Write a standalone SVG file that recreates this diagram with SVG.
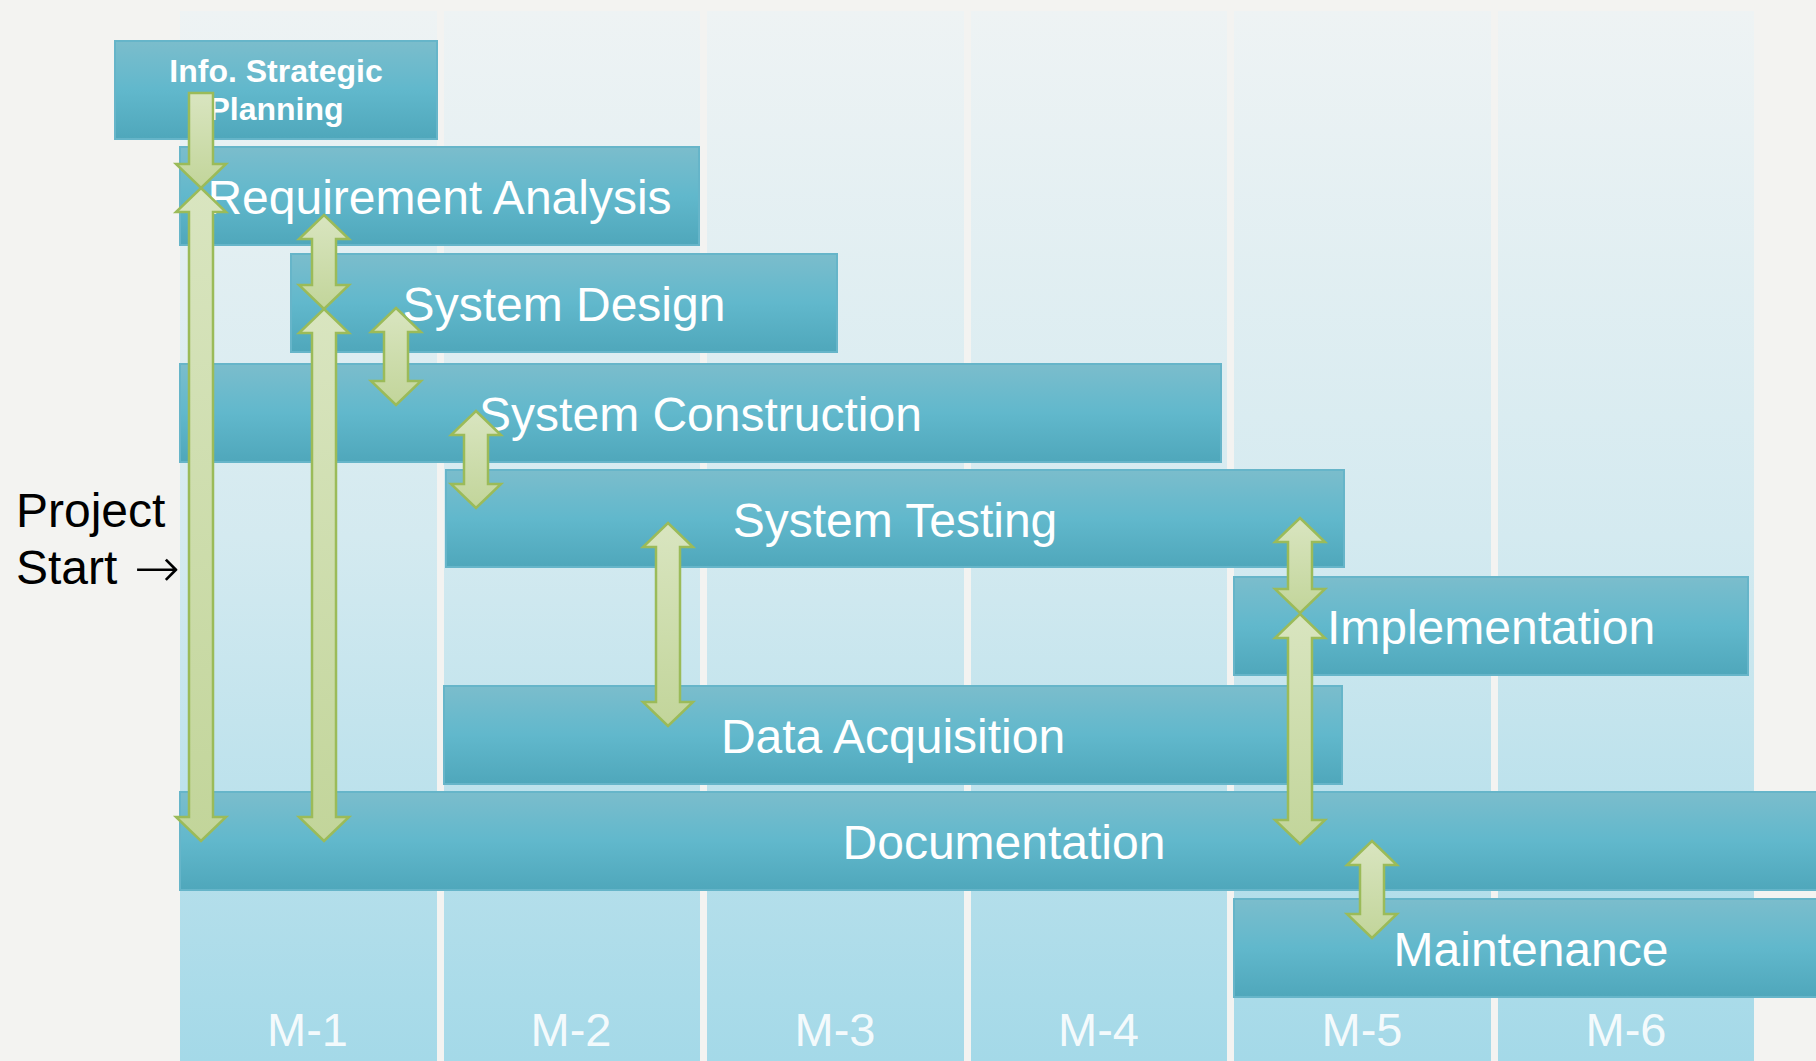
<svg xmlns="http://www.w3.org/2000/svg" width="1816" height="1061" viewBox="0 0 1816 1061">
<defs>
<linearGradient id="colGrad" x1="0" y1="0" x2="0" y2="1">
<stop offset="0" stop-color="#eef3f4"/>
<stop offset="0.5" stop-color="#d4eaf0"/>
<stop offset="1" stop-color="#a4d9e8"/>
</linearGradient>
<linearGradient id="barGrad" x1="0" y1="0" x2="0" y2="1">
<stop offset="0" stop-color="#7bbdcc"/>
<stop offset="0.5" stop-color="#61b8cc"/>
<stop offset="1" stop-color="#4fa7bb"/>
</linearGradient>
<linearGradient id="arrGrad" x1="0" y1="0" x2="0" y2="1">
<stop offset="0" stop-color="#d9e5c0"/>
<stop offset="1" stop-color="#c2d59a"/>
</linearGradient>
<style>
.col{fill:url(#colGrad)}
.bar{fill:url(#barGrad);stroke:#66b5c9;stroke-width:2}
.lbl{font-family:"Liberation Sans",Arial,sans-serif;font-size:48px;fill:#ffffff;text-anchor:middle}
.lblb{font-family:"Liberation Sans",Arial,sans-serif;font-size:32px;font-weight:bold;fill:#ffffff;text-anchor:middle}
.mon{font-family:"Liberation Sans",Arial,sans-serif;font-size:47px;fill:#ffffff;fill-opacity:0.9;text-anchor:middle}
.side{font-family:"Liberation Sans",Arial,sans-serif;font-size:48px;fill:#000000}
.sarr{font-family:"DejaVu Sans",sans-serif;font-size:55px;font-weight:200}
.arr{fill:url(#arrGrad);stroke:#9bbb59;stroke-width:2.5;stroke-linejoin:miter}
</style>
</defs>
<rect x="0" y="0" width="1816" height="1061" fill="#f3f3f1"/>
<g id="columns">
<rect class="col" x="180" y="11" width="257" height="1050"/>
<rect class="col" x="444" y="11" width="256" height="1050"/>
<rect class="col" x="707" y="11" width="257" height="1050"/>
<rect class="col" x="971" y="11" width="256" height="1050"/>
<rect class="col" x="1234" y="11" width="257" height="1050"/>
<rect class="col" x="1498" y="11" width="256" height="1050"/>
</g>
<g id="months">
<text class="mon" x="307.5" y="1046">M-1</text>
<text class="mon" x="571" y="1046">M-2</text>
<text class="mon" x="835" y="1046">M-3</text>
<text class="mon" x="1098.5" y="1046">M-4</text>
<text class="mon" x="1362" y="1046">M-5</text>
<text class="mon" x="1626" y="1046">M-6</text>
</g>
<g id="project-start">
<text class="side" x="16" y="527">Project</text>
<text class="side" x="16" y="584">Start <tspan class="sarr" x="134" y="587">→</tspan></text>
</g>
<g id="info-strategic-planning">
<rect class="bar" x="115" y="41" width="322" height="98"/>
<text class="lblb" x="276" y="82">Info. Strategic</text>
<text class="lblb" x="276" y="120">Planning</text>
</g>
<g id="requirement-analysis">
<rect class="bar" x="180" y="147" width="519" height="98"/>
<text class="lbl" x="439.5" y="214">Requirement Analysis</text>
</g>
<g id="system-design">
<rect class="bar" x="291" y="254" width="546" height="98"/>
<text class="lbl" x="564" y="321">System Design</text>
</g>
<g id="system-construction">
<rect class="bar" x="180" y="364" width="1041" height="98"/>
<text class="lbl" x="700.5" y="431">System Construction</text>
</g>
<g id="system-testing">
<rect class="bar" x="446" y="470" width="898" height="97"/>
<text class="lbl" x="895" y="537">System Testing</text>
</g>
<g id="implementation">
<rect class="bar" x="1234" y="577" width="514" height="98"/>
<text class="lbl" x="1491" y="644">Implementation</text>
</g>
<g id="data-acquisition">
<rect class="bar" x="444" y="686" width="898" height="98"/>
<text class="lbl" x="893" y="753">Data Acquisition</text>
</g>
<g id="documentation">
<rect class="bar" x="180" y="792" width="1648" height="98"/>
<text class="lbl" x="1004" y="859">Documentation</text>
</g>
<g id="maintenance">
<rect class="bar" x="1234" y="899" width="1594" height="98"/>
<text class="lbl" x="1531" y="966">Maintenance</text>
</g>
<g id="connectors">
<path class="arr" d="M189,93 L213,93 L213,164 L226,164 L201,188 L176,164 L189,164 Z"/>
<path class="arr" d="M201,188 L226,212 L213,212 L213,817 L226,817 L201,841 L176,817 L189,817 L189,212 L176,212 Z"/>
<path class="arr" d="M324,215 L349,239 L336,239 L336,285 L349,285 L324,309 L299,285 L312,285 L312,239 L299,239 Z"/>
<path class="arr" d="M324,309 L349,333 L336,333 L336,817 L349,817 L324,841 L299,817 L312,817 L312,333 L299,333 Z"/>
<path class="arr" d="M396,308 L421,332 L408,332 L408,381 L421,381 L396,405 L371,381 L384,381 L384,332 L371,332 Z"/>
<path class="arr" d="M476,411 L501,435 L488,435 L488,484 L501,484 L476,508 L451,484 L464,484 L464,435 L451,435 Z"/>
<path class="arr" d="M668,523 L693,547 L680,547 L680,702 L693,702 L668,726 L643,702 L656,702 L656,547 L643,547 Z"/>
<path class="arr" d="M1300,518 L1325,542 L1312,542 L1312,589 L1325,589 L1300,613 L1275,589 L1288,589 L1288,542 L1275,542 Z"/>
<path class="arr" d="M1300,614 L1325,638 L1312,638 L1312,820 L1325,820 L1300,844 L1275,820 L1288,820 L1288,638 L1275,638 Z"/>
<path class="arr" d="M1372,841 L1397,865 L1384,865 L1384,914 L1397,914 L1372,938 L1347,914 L1360,914 L1360,865 L1347,865 Z"/>
</g>
</svg>
